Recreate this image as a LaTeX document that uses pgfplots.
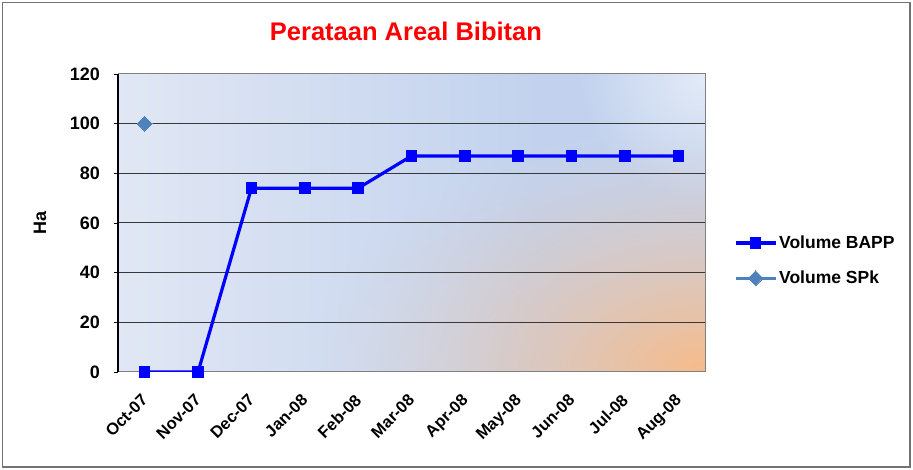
\documentclass[border=0pt]{standalone}
\usepackage{pgfplots}
\pgfplotsset{compat=1.18}
\usepackage{fontspec}
\setmainfont{Liberation Sans}
\definecolor{spk}{HTML}{4F81BD}

% visible area of a TikZ-fitted shading is the central square [-25bp,25bp]^2
\pgfdeclarefunctionalshading{bgfun}{\pgfpoint{-50bp}{-50bp}}{\pgfpoint{50bp}{50bp}}{}{
  2 copy exch 25 exch sub 7.34 mul dup mul exch 25 add 5.96 mul dup mul add sqrt 255 div 1 exch sub dup 0 lt {pop 0} if dup sqrt mul
  3 1 roll
  2 copy 25 exch sub 5.96 mul dup mul exch 25 exch sub 11.74 mul dup mul add sqrt 125 div 1 exch sub dup 0 lt {pop 0} if 0.55 mul
  exch pop exch 25 add 50 div 1.4 mul dup 1 gt {pop 1} if dup 0 lt {pop 0} if
  dup -0.121 mul 0.882 add 3 index 1 exch sub mul 3 index 0.969 mul add 2 index 1 exch sub mul 2 index add 4 1 roll
  dup -0.082 mul 0.906 add 3 index 1 exch sub mul 3 index 0.733 mul add 2 index 1 exch sub mul 2 index add 4 1 roll
  dup -0.024 mul 0.957 add 3 index 1 exch sub mul 3 index 0.533 mul add 2 index 1 exch sub mul 2 index add 4 1 roll
  pop pop pop
}

\begin{document}
\begin{tikzpicture}
\useasboundingbox (0bp,0bp) rectangle (913bp,470bp);
\draw[black!55, line width=1.2bp] (2.5bp,3bp) rectangle (910bp,467.5bp);
\begin{axis}[
  at={(118bp,98bp)}, anchor=south west,
  scale only axis, width=587bp, height=298bp,
  xmin=-0.5, xmax=10.5, ymin=0, ymax=120,
  ytick={0,20,...,120},
  xtick={0,...,10},
  xticklabels={Oct-07,Nov-07,Dec-07,Jan-08,Feb-08,Mar-08,Apr-08,May-08,Jun-08,Jul-08,Aug-08},
  yticklabel style={font=\fontsize{18bp}{20bp}\selectfont\bfseries, inner sep=0bp, xshift=-14bp},
  /pgf/number format/assume math mode=true,
  xticklabel style={font=\fontsize{16.5bp}{19bp}\selectfont\bfseries,
    rotate=45, anchor=north east, inner sep=1bp, xshift=-14bp, yshift=-8bp},
  xtick style={draw=none},
  ytick pos=left,
  tick align=outside,
  major tick length=4bp,
  ytick style={black, line width=0.8bp},
  ymajorgrids,
  major grid style={black!78, line width=1bp},
  axis line style={black!50, line width=1bp},
  axis background/.style={shade, shading=bgfun},
  title={Perataan Areal Bibitan},
  title style={font=\fontsize{25.5bp}{28bp}\selectfont\bfseries, color=red,
    at={(0.4906,1)}, anchor=base, yshift=28bp},
  ylabel={Ha},
  ylabel style={font=\fontsize{18bp}{20bp}\selectfont\bfseries,
    at={(axis description cs:-0.133,0.5)}, anchor=center},
  legend style={at={(1.049,0.374)}, anchor=west, draw=none, fill=none,
    font=\fontsize{17.5bp}{20bp}\selectfont\bfseries,
    row sep=17bp, inner sep=0bp,
    legend cell align=left},
  legend image code/.code={
    \draw[mark repeat=2, mark phase=2, #1] plot coordinates {(0bp,0bp) (20bp,0bp) (40bp,0bp)};
  },
  after end axis/.code={
    \draw[black, line width=1.2bp] (rel axis cs:0,0) -- (rel axis cs:0,1);
  },
]
\addplot[color=blue, line width=3.2bp, mark=square*, mark size=5.3bp, mark options={solid, line width=0bp}]
  coordinates {(0,0) (1,0) (2,74) (3,74) (4,74) (5,87) (6,87) (7,87) (8,87) (9,87) (10,87)};
\addlegendentry{Volume BAPP}
\addplot[color=spk, line width=3bp, mark=square*, mark size=5.2bp, mark options={solid, rotate=45, line width=0bp}]
  coordinates {(0,100)};
\addlegendentry{Volume SPk}
\end{axis}
\end{tikzpicture}
\end{document}
